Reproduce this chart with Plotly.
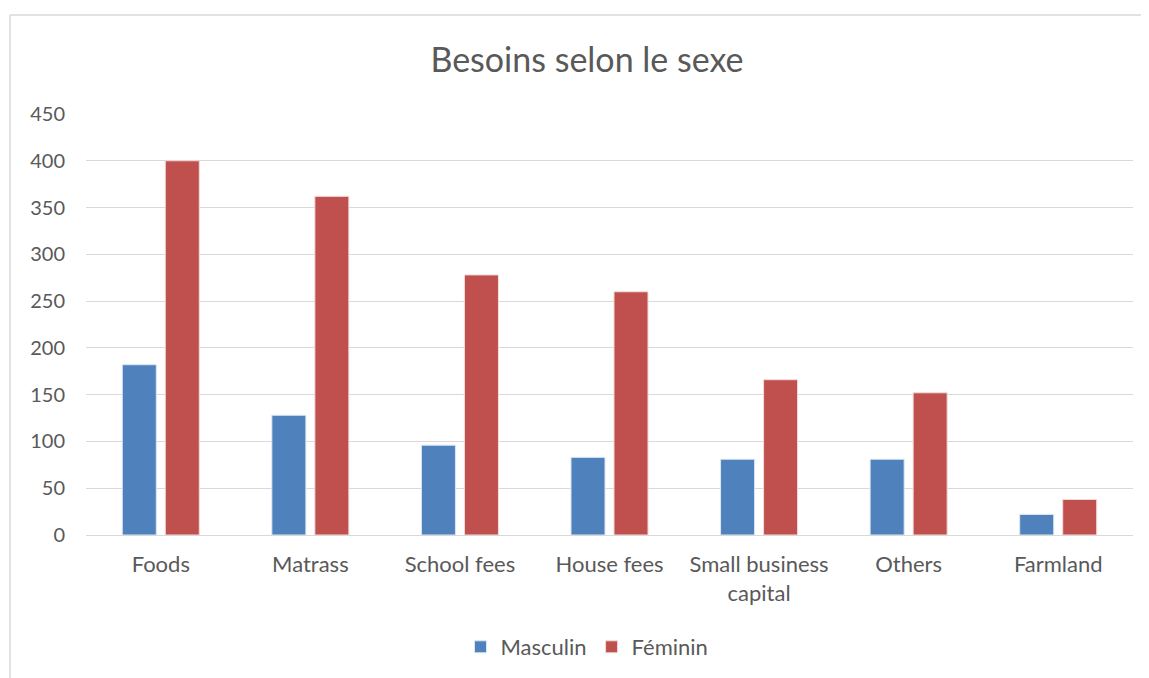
import plotly.graph_objects as go

categories = ["Foods", "Matrass", "School fees", "House fees", "Small business<br>capital", "Others", "Farmland"]
masculin = [182, 128, 96, 83, 81, 81, 22]
feminin = [400, 362, 278, 260, 166, 152, 38]
y_ticks = [0, 50, 100, 150, 200, 250, 300, 350, 400, 450]

FONT = "Lato"
TXT = "#595959"

fig = go.Figure()
fig.add_trace(go.Bar(name="Masculin", x=categories, y=masculin,
                     marker=dict(color="#4F81BD", line=dict(color="#dce6f2", width=1))))
fig.add_trace(go.Bar(name="Féminin", x=categories, y=feminin,
                     marker=dict(color="#C0504D", line=dict(color="#f2dcdb", width=1))))

# page is offset by 8px body margin; work in figure coords = page - 8
OFF = 8
W, H = 1149 - OFF, 678 - OFF
L = 86 - OFF
T = 114 - OFF
R = W - (1133 - OFF)
B = H - (535 - OFF)
pw, ph = W - L - R, H - T - B
y0_fig = 535 - OFF

fig.update_layout(
    width=W, height=H,
    margin=dict(l=L, r=R, t=T, b=B, autoexpand=False),
    paper_bgcolor="white", plot_bgcolor="white",
    barmode="group", bargap=0.425, bargroupgap=0.209,
    font=dict(family=FONT, color=TXT, size=22),
    title=dict(text="Besoins selon le sexe", x=(587 - OFF) / W, xanchor="center",
               y=1 - (60 - OFF) / H, yanchor="middle",
               font=dict(family=FONT, size=34, color=TXT)),
    legend=dict(orientation="h", x=(587 - OFF - L) / pw, xanchor="center",
                y=-((647 - OFF) - y0_fig) / ph, yanchor="middle",
                font=dict(family=FONT, size=22, color=TXT),
                itemwidth=30, traceorder="normal"),
    xaxis=dict(showline=True, linecolor="#d9d9d9", linewidth=1,
               ticks="", ticklabelstandoff=10,
               tickfont=dict(family=FONT, size=22, color=TXT),
               fixedrange=True),
    yaxis=dict(range=[0, 450], tickvals=y_ticks, showgrid=True,
               gridcolor="#d9d9d9", gridwidth=1, zeroline=False,
               ticks="", ticklabelstandoff=20,
               tickfont=dict(family=FONT, size=20, color=TXT)),
)

# chart area border (left and top edges visible)
x_left = ((10 - OFF) - L) / pw
y_top = (y0_fig - (15 - OFF)) / ph
fig.add_shape(type="line", xref="paper", yref="paper",
              x0=x_left, x1=x_left, y0=y_top, y1=-(H - y0_fig + 5) / ph,
              line=dict(color="#d9d9d9", width=1.5))
fig.add_shape(type="line", xref="paper", yref="paper",
              x0=x_left, x1=(W + 5 - L) / pw, y0=y_top, y1=y_top,
              line=dict(color="#d9d9d9", width=1.5))

fig.write_html("out.html")
